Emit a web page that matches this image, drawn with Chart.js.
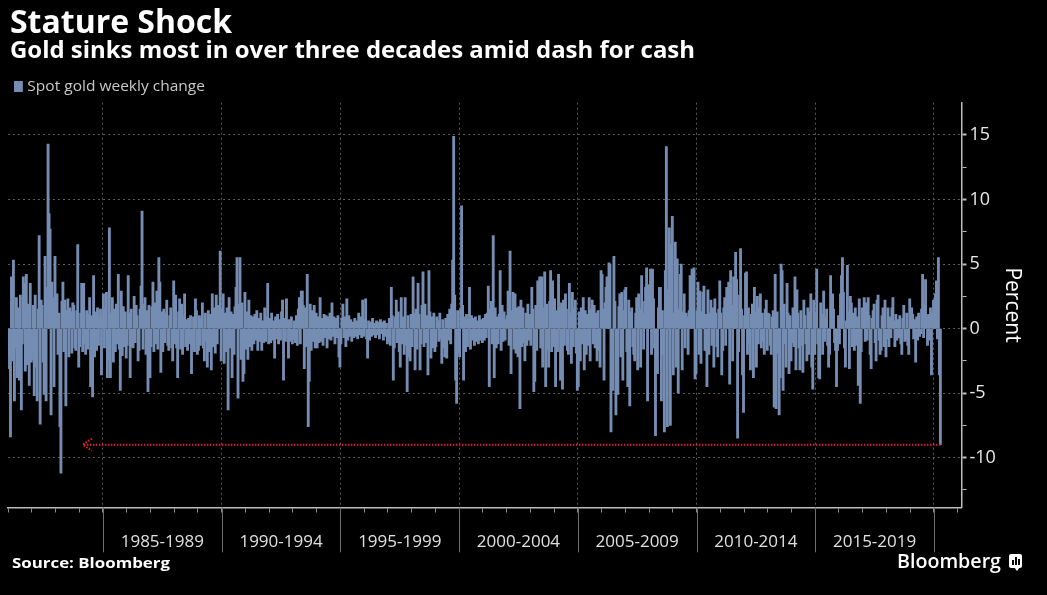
<!DOCTYPE html>
<html>
<head>
<meta charset="utf-8">
<script src="https://cdn.jsdelivr.net/npm/chart.js@4.4.1/dist/chart.umd.min.js"></script>
<style>
html,body{margin:0;padding:0;background:#000;width:1047px;height:595px;overflow:hidden;}
#wrap{position:relative;width:1047px;height:595px;background:#000;}
#chart{position:absolute;left:0;top:0;}
.t{position:absolute;white-space:nowrap;color:#fff;font-family:"Open Sans",sans-serif;transform-origin:left top;line-height:1;}
#title{left:10px;top:4px;font-size:33px;font-weight:700;}
#subtitle{left:10px;top:38px;font-size:23px;font-weight:700;}
#legend{left:14px;top:79px;font-size:14px;color:#c8c8c8;}
#legend i{display:inline-block;width:8px;height:11px;background:#758db2;margin-right:4px;vertical-align:-1px;}
#source{left:12px;top:556px;font-size:14px;font-weight:700;}
#brand{left:897px;top:551px;font-size:20px;font-weight:600;}
#logo{position:absolute;left:1009px;top:554px;width:13px;height:14px;background:#fff;border-radius:2px;}
#logo:after{content:"";position:absolute;left:5px;top:13px;border-left:3px solid transparent;border-right:3px solid transparent;border-top:4px solid #fff;}
#logo b{position:absolute;bottom:3px;width:2px;background:#000;}
</style>
</head>
<body>
<div id="wrap">
<canvas id="chart" width="1047" height="595"></canvas>
<div class="t" id="title">Stature Shock</div>
<div class="t" id="subtitle">Gold sinks most in over three decades amid dash for cash</div>
<div class="t" id="legend"><i></i>Spot gold weekly change</div>
<div class="t" id="source">Source: Bloomberg</div>
<div class="t" id="brand">Bloomberg</div>
<div id="logo"><b style="left:3px;height:5px"></b><b style="left:6px;height:8px"></b><b style="left:9px;height:6px"></b></div>
</div>
<script>
// ---- data: spot gold change, 24 readings per year starting 1981 (percent) ----
const startYear = 1981;
const perYear = 24;
const chg1981_1984 = [
 -2.0,-3.1,-8.4,4.0,-2.5,5.3,-5.6,-1.5,2.4,-3.8,1.6,-4.0,2.6,-6.3,-1.2,4.0,3.5,-3.3,4.2,-2.8,1.9,-4.4,3.5,-2.6,
 -2.4,1.8,-5.2,2.6,-3.0,-5.6,1.5,7.2,-7.4,2.2,1.8,-2.6,-5.1,5.6,-5.6,3.2,14.3,8.9,7.7,-6.7,3.6,2.4,-4.5,5.6,
 1.5,2.7,-2.0,1.2,-7.6,-11.2,2.1,3.6,-1.8,2.2,-6.0,1.4,2.3,-2.2,1.6,1.3,-1.9,2.0,1.8,-1.5,-1.7,1.4,6.5,-3.0,
 -1.4,1.2,3.5,-1.8,3.5,-1.2,-2.0,1.4,-1.6,1.1,2.4,-4.5,1.0,-5.3,4.1,-2.2,1.3,-1.7,1.6,-1.3,0.9,1.5,-3.6,1.0];
const chg1985_1989 = [
 2.7,-1.5,1.6,2.8,-3.8,-2.4,7.8,-3.8,1.2,2.4,-2.6,1.5,-1.8,1.9,-1.2,4.2,-1.6,-4.8,2.9,-2.1,1.7,-1.4,1.3,-2.3,
 -1.3,4.1,1.2,-3.8,1.5,-1.4,-1.5,2.5,-1.1,1.8,1.0,-2.5,-1.7,1.5,3.3,9.1,-1.6,1.9,2.4,-2.0,1.4,-4.9,1.8,-3.8,
 -1.4,1.7,3.6,-1.8,2.0,-1.2,2.9,-1.6,5.5,3.6,-3.4,1.3,-1.8,1.5,-1.1,1.2,2.2,-1.3,-1.7,1.0,1.6,-1.5,-2.5,3.7,
 -1.2,2.6,-1.5,-3.8,1.3,2.3,-1.6,1.9,-2.0,1.0,2.7,-1.4,0.7,-1.7,0.8,-1.2,1.0,-3.5,-1.6,0.9,-1.8,2.3,1.4,-2.0,
 -1.7,1.0,-1.3,0.8,2.0,-1.5,-2.5,1.2,-1.0,-3.0,1.4,-1.8,1.1,-3.2,2.7,-1.4,1.6,-1.9,2.6,-1.2,1.8,1.1,6.0,-2.5];
const chg1990_1994 = [
 1.5,2.7,-2.7,1.2,-1.8,1.6,-6.3,2.4,-1.5,1.3,-3.8,1.1,-2.0,1.7,3.2,5.5,-5.4,1.9,5.5,-2.4,2.0,-4.1,-3.5,2.8,
 -1.6,1.3,-2.4,2.2,-1.4,1.0,-1.7,0.9,-1.2,1.1,-0.9,1.4,-1.7,0.8,-1.0,1.2,-1.7,0.6,-1.1,1.6,-1.0,0.9,3.5,-1.2,
 0.8,-1.1,1.2,-0.9,0.6,-2.3,0.9,-0.8,1.1,-1.2,0.7,-0.9,1.3,2.2,-4.0,0.8,-1.0,2.3,0.6,-2.3,0.7,-1.0,0.9,-1.2,
 -0.8,0.6,-1.1,1.0,-1.3,1.5,2.4,-1.2,2.9,2.9,1.8,-3.1,1.6,-1.4,4.2,-7.6,-4.1,1.9,-1.7,1.4,-1.0,1.8,-1.5,1.2,
 -1.5,0.9,-1.1,2.4,-1.0,0.8,-1.3,1.1,-0.7,1.0,-1.5,0.9,-0.8,1.2,-0.9,2.0,-0.6,0.9,-1.2,0.8,-0.7,1.0,-2.2,-3.0];
const chg1995_1999 = [
 -1.2,0.8,1.9,-0.7,0.9,-1.4,2.3,-0.9,1.0,-0.6,0.7,-1.0,0.5,-0.7,0.8,-0.6,0.6,-0.8,1.2,-0.5,0.9,-0.7,2.2,-0.6,
 0.7,2.3,-0.8,-2.3,0.6,-0.9,0.5,-0.6,0.8,-0.5,0.4,-0.7,0.6,-0.5,0.5,-0.8,0.7,-0.4,0.5,-0.9,0.6,-0.6,0.4,-1.2,
 -1.0,0.8,-1.3,3.2,1.0,-4.0,-1.5,0.9,2.2,-1.1,1.3,-1.8,-3.0,2.4,-1.2,0.9,-2.0,2.4,-1.3,-4.9,1.0,-2.2,-2.5,1.1,
 -1.4,4.0,1.2,-3.2,1.5,-1.6,3.5,1.1,-3.2,-1.2,1.8,4.4,-1.4,1.9,-1.1,1.0,-3.6,4.5,1.3,-2.3,0.9,-1.5,1.2,-1.8,
 -1.4,0.9,0.6,-1.0,1.2,-0.8,-2.7,0.7,-1.5,-2.2,0.8,-2.3,1.1,-0.9,1.5,-1.2,1.9,5.3,14.9,2.6,-4.0,-5.8,1.4,-1.9];
const chg2000_2004 = [
 -2.2,1.5,9.5,1.8,-4.0,0.9,-1.8,1.1,-1.4,0.7,3.2,-1.6,1.0,-0.9,0.8,-1.3,0.9,-1.0,0.6,-1.2,1.0,-0.9,0.7,-1.1,
 0.8,-0.9,1.1,-0.7,1.2,3.3,-4.5,1.5,2.1,-1.2,7.2,-3.8,1.6,-1.5,0.9,-1.2,1.1,4.5,-1.7,1.8,-1.0,1.3,-0.9,0.7,
 1.0,2.9,-1.3,6.0,-3.5,1.4,2.8,-1.6,2.7,-1.9,1.6,-2.2,1.7,-6.2,2.2,-1.4,1.6,-1.1,-2.5,1.2,-1.3,1.9,-0.9,1.1,
 -1.3,3.2,1.5,-4.9,-4.1,1.8,-1.7,3.7,1.2,4.0,-1.5,4.0,-3.0,1.6,4.4,-4.5,1.9,-1.6,-3.0,2.1,4.5,-1.8,3.7,-1.4,
 2.3,-4.5,1.4,-1.8,4.2,1.6,-4.0,2.0,-4.7,2.2,-1.3,2.7,1.5,-1.7,-2.0,3.5,1.2,-2.7,2.8,-1.4,1.6,2.2,-1.9,-4.8];
const chg2005_2009 = [
 -4.5,1.3,-2.5,1.6,-1.2,2.4,-3.2,1.4,-2.0,1.1,-1.3,2.4,-2.5,1.5,2.2,-1.2,1.8,-1.5,1.2,-2.5,1.4,-1.7,-3.0,4.5,
 4.2,1.5,-4.0,2.0,3.2,4.0,1.6,5.1,5.0,-8.0,-2.3,-4.8,5.6,2.1,-6.7,-2.8,-5.1,1.7,2.7,-2.2,2.8,-4.0,1.4,3.0,
 3.2,-1.8,-4.5,2.2,-6.0,1.3,1.6,-1.4,-2.0,-2.5,1.2,2.4,-3.2,2.7,1.5,-3.0,4.1,1.2,-1.6,2.1,3.2,4.7,-5.6,3.4,
 1.8,4.6,-2.0,4.6,2.3,-1.5,-8.3,-2.5,-3.5,1.6,3.2,3.2,-5.6,1.4,-2.0,-8.0,4.5,14.1,-7.6,3.0,7.8,-7.5,6.5,8.7,
 -3.6,1.2,6.7,-3.0,5.4,-5.0,1.5,4.2,5.0,-3.2,1.3,2.7,-1.5,1.2,0.9,-2.0,1.4,4.1,2.8,4.6,1.5,4.7,-3.9,-3.5];
const chg2010_2014 = [
 1.4,3.6,-2.0,2.9,-2.7,1.3,2.8,3.3,-1.7,1.1,-4.5,3.0,-2.0,1.2,2.2,-1.3,1.6,-3.0,2.3,1.2,-1.4,-2.2,1.5,3.7,
 1.2,-3.6,-1.7,1.6,2.4,-1.3,3.2,1.5,3.6,-4.3,4.5,1.8,-2.5,4.0,2.1,5.9,3.8,-8.5,-1.8,2.6,6.2,1.5,-3.6,-6.5,
 1.0,4.3,4.4,-2.0,1.6,-1.2,-3.2,1.1,1.9,-3.8,3.2,1.3,-3.0,2.5,-1.2,1.6,2.7,-1.5,1.2,-1.0,-2.0,1.5,2.2,-1.7,
 1.2,1.1,-1.3,-2.0,0.9,1.4,-6.1,4.2,-6.2,1.3,-1.9,-6.7,-3.8,5.0,4.5,-4.8,1.9,-1.2,-3.0,3.5,1.2,-3.5,1.0,-2.5,
 -1.1,1.6,-1.4,4.0,-3.2,3.0,1.2,-1.5,-3.2,1.4,-1.3,-3.4,2.2,1.0,-1.2,-2.5,1.6,-2.0,1.3,2.7,-3.0,-4.7,2.2,-2.0];
const chg2015_2019 = [
 1.3,4.6,-1.2,-3.8,-3.9,2.0,1.1,-2.0,2.9,-1.0,0.9,1.5,-1.3,-3.0,-2.0,4.1,1.2,2.7,1.5,-1.1,-1.7,-4.5,-1.7,1.0,
 -1.2,2.7,4.1,5.5,2.8,-1.5,-3.0,0.6,4.9,1.3,-3.1,2.5,2.0,-1.4,1.2,-1.7,1.6,-1.3,0.9,-4.4,2.3,-5.8,-1.8,1.6,
 1.1,2.4,-1.0,2.0,-0.9,2.4,1.0,-2.0,-3.1,0.8,1.4,1.9,-1.1,-2.5,2.2,2.6,-0.9,-2.0,-1.7,1.0,1.6,-1.4,2.2,-2.2,
 -0.8,1.6,-1.4,0.9,-0.7,1.6,2.4,0.6,-1.4,1.1,-0.9,0.7,-0.7,1.0,-1.2,-2.0,0.8,1.8,-1.0,-0.9,1.2,-1.3,-2.0,2.3,
 1.0,1.6,1.1,-0.8,0.7,-2.6,0.9,-0.9,1.2,-0.6,-0.4,1.5,4.2,-0.7,1.8,3.8,0.9,-1.3,1.1,-0.9,1.6,-3.6,1.2,2.2];
const chg2020 = [1.2,2.7,3.7,-0.8,5.5,-3.6,-9.0];

const periodLabels = ['1985-1989','1990-1994','1995-1999','2000-2004','2005-2009','2010-2014','2015-2019'];
const yTickValues = [-12.5,-10,-7.5,-5,-2.5,0,2.5,5,7.5,10,12.5,15];
const yRange = [-13.85, 17.5];
const xRange = [1981, 2021.16];
const arrowFromYear = 1984.15; // annotation arrow tip (data units)

const weeklyChange = [].concat(chg1981_1984, chg1985_1989, chg1990_1994, chg1995_1999,
  chg2000_2004, chg2005_2009, chg2010_2014, chg2015_2019, chg2020);
const points = weeklyChange.map((v, i) => ({x: startYear + (i + 0.5) / perYear, y: v}));
const periodCenter = l => +l.slice(0, 4) + 2.5;

const BAR = '#758db2';

const extras = {
  id: 'extras',
  afterDraw(chart) {
    const {ctx, scales: {x, y}, chartArea} = chart;
    ctx.save();
    // five-year separators below the axis
    ctx.strokeStyle = '#6e6e6e';
    ctx.lineWidth = 1;
    for (let yr = 1985; yr <= 2020; yr += 5) {
      const px = Math.round(x.getPixelForValue(yr)) + 0.5;
      ctx.beginPath();
      ctx.moveTo(px, chartArea.bottom);
      ctx.lineTo(px, chartArea.bottom + 45);
      ctx.stroke();
    }
    // red dotted arrow from the latest reading
    const last = points[points.length - 1];
    const x1 = x.getPixelForValue(last.x);
    const yy = y.getPixelForValue(last.y);
    const x0 = x.getPixelForValue(arrowFromYear);
    ctx.strokeStyle = '#e3232c';
    ctx.lineWidth = 2;
    ctx.setLineDash([1.5, 1.5]);
    ctx.beginPath();
    ctx.moveTo(x1, yy); ctx.lineTo(x0, yy);
    ctx.moveTo(x0 + 9, yy - 6); ctx.lineTo(x0, yy); ctx.lineTo(x0 + 9, yy + 6);
    ctx.stroke();
    ctx.restore();
  }
};

function fit(id, w) {
  const el = document.getElementById(id);
  const cw = el.getBoundingClientRect().width;
  el.style.transform = 'scaleX(' + (w / cw) + ')';
}

function build() {
  fit('title', 222);
  fit('subtitle', 685);
  fit('legend', 191);
  fit('source', 158);
  fit('brand', 104);

  Chart.defaults.font.family = '"Open Sans", sans-serif';
  new Chart(document.getElementById('chart'), {
    type: 'bar',
    data: {
      datasets: [{
        label: 'Spot gold weekly change',
        data: points,
        backgroundColor: BAR,
        borderWidth: 0,
        barThickness: 2.2,
        grouped: false
      }]
    },
    options: {
      responsive: false,
      animation: false,
      devicePixelRatio: 1,
      layout: {padding: {left: 8, top: 102.7, right: 0, bottom: 0}},
      plugins: {legend: {display: false}, tooltip: {enabled: false}},
      scales: {
        x: {
          type: 'linear',
          offset: false,
          min: xRange[0], max: xRange[1],
          afterBuildTicks: s => {
            const t = [];
            for (let yr = 1981; yr <= 2021; yr++) t.push({value: yr});
            periodLabels.forEach(l => t.push({value: periodCenter(l)}));
            s.ticks = t.sort((a, b) => a.value - b.value);
          },
          afterFit: s => { s.height = 595 - 507.3; },
          ticks: {
            autoSkip: false, maxRotation: 0, minRotation: 0,
            color: '#e0e0e0', font: {size: 17}, padding: 0,
            callback: v => { const l = periodLabels.find(p => periodCenter(p) === v); return l || ''; }
          },
          grid: {
            offset: false,
            color: c => (c.tick && Number.isInteger(c.tick.value) && c.tick.value % 5 === 0) ? '#5a5a5a' : 'rgba(0,0,0,0)',
            tickColor: c => (c.tick && Number.isInteger(c.tick.value)) ? '#8c8c8c' : 'rgba(0,0,0,0)',
            tickBorderDash: [4, 60],
            tickLength: 25, lineWidth: 1
          },
          border: {display: true, color: '#bdbdbd', width: 1.5, dash: [2, 3]}
        },
        y: {
          position: 'right',
          min: yRange[0], max: yRange[1],
          afterBuildTicks: s => { s.ticks = yTickValues.map(v => ({value: v})); },
          afterFit: s => { s.width = 85.5; },
          ticks: {
            autoSkip: false, color: '#e8e8e8', font: {size: 18}, padding: 3,
            callback: v => (v % 5 === 0 ? String(v) : '')
          },
          grid: {
            color: c => (c.tick && c.tick.value % 5 === 0) ? '#5a5a5a' : 'rgba(0,0,0,0)',
            tickColor: '#bdbdbd',
            tickWidth: c => (c.tick && c.tick.value % 5 === 0) ? 2 : 1,
            tickLength: 5, lineWidth: 1
          },
          border: {display: true, color: '#bdbdbd', width: 1.5, dash: [2, 3]},
          title: {display: true, text: 'Percent', color: '#ffffff', font: {size: 21}, padding: {top: 22, bottom: 0}}
        }
      }
    },
    plugins: [extras]
  });
}

if (document.fonts && document.fonts.load) {
  Promise.all([
    document.fonts.load('700 33px "Open Sans"'),
    document.fonts.load('400 17px "Open Sans"')
  ]).then(build, build);
} else build();
</script>
</body>
</html>
